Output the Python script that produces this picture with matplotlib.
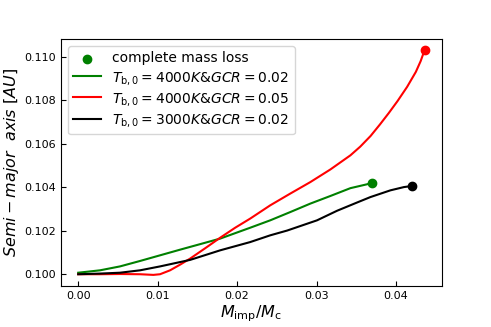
import matplotlib
matplotlib.use("Agg")
import matplotlib.pyplot as plt

# green: T_b,0 = 4000K, GCR = 0.02
x_g = [0.0, 0.00274, 0.00526, 0.00778, 0.0103, 0.01282, 0.01550, 0.01787, 0.02165, 0.02417,
       0.02669, 0.02922, 0.03174, 0.03426, 0.03637, 0.0370]
y_g = [0.10007, 0.10018, 0.10036, 0.10061, 0.10087, 0.10113, 0.10140, 0.10164, 0.10214, 0.10248,
       0.10286, 0.10325, 0.10360, 0.10396, 0.10414, 0.10420]

# red: T_b,0 = 4000K, GCR = 0.05
x_r = [0.0, 0.00274, 0.00526, 0.00778, 0.00946, 0.0103, 0.01156, 0.01282, 0.01409, 0.01600,
       0.01787, 0.01976, 0.02165, 0.02417, 0.02669, 0.02922, 0.03174, 0.03426, 0.0355, 0.0368,
       0.0380, 0.0391, 0.0402, 0.0414, 0.0425, 0.0431, 0.0436]
y_r = [0.10000, 0.10000, 0.10001, 0.10000, 0.09997, 0.10000, 0.10018, 0.10044, 0.10072, 0.10120,
       0.10168, 0.10214, 0.10256, 0.10317, 0.10371, 0.10424, 0.10482, 0.10547, 0.10587, 0.10636,
       0.10690, 0.10742, 0.10797, 0.10862, 0.10931, 0.10980, 0.11031]

# black: T_b,0 = 3000K, GCR = 0.02
x_k = [0.0, 0.00274, 0.00526, 0.00778, 0.0103, 0.01282, 0.01409, 0.01787, 0.02165, 0.02417,
       0.0263, 0.03006, 0.03258, 0.0351, 0.03678, 0.0393, 0.0410, 0.0420]
y_k = [0.10000, 0.10003, 0.10007, 0.10018, 0.10036, 0.10056, 0.10066, 0.10110, 0.10148, 0.10179,
       0.10201, 0.10248, 0.10292, 0.10330, 0.10355, 0.10386, 0.10401, 0.10406]

fig = plt.figure(figsize=(4.91, 3.27), dpi=100)
ax = fig.add_axes([0.124, 0.125, 0.776, 0.756])

ax.scatter([x_g[-1]], [y_g[-1]], color='green', s=36, zorder=3, label='complete mass loss')
ax.plot(x_g, y_g, color='green', lw=1.5, label=r'$T_{\rm b,0}=4000K$&$GCR=0.02$')
ax.plot(x_r, y_r, color='red', lw=1.5, label=r'$T_{\rm b,0}=4000K$&$GCR=0.05$')
ax.plot(x_k, y_k, color='black', lw=1.5, label=r'$T_{\rm b,0}=3000K$&$GCR=0.02$')
ax.scatter([x_r[-1]], [y_r[-1]], color='red', s=36, zorder=3)
ax.scatter([x_k[-1]], [y_k[-1]], color='black', s=36, zorder=3)

ax.set_xticks([0.0, 0.01, 0.02, 0.03, 0.04])
ax.set_yticks([0.100, 0.102, 0.104, 0.106, 0.108, 0.110])
ax.tick_params(direction='in', labelsize=8)
ax.set_xlabel(r'$M_{\rm imp}/M_{\rm c}$', fontsize=11.5, labelpad=2)
ax.set_ylabel(r'$Semi-major\ \ axis\ [AU]$', fontsize=11.5)
ax.yaxis.set_label_coords(-0.105, 0.5)
ax.legend(loc='upper left', fontsize=10, labelspacing=0.3)

fig.savefig('out.png', dpi=100)
